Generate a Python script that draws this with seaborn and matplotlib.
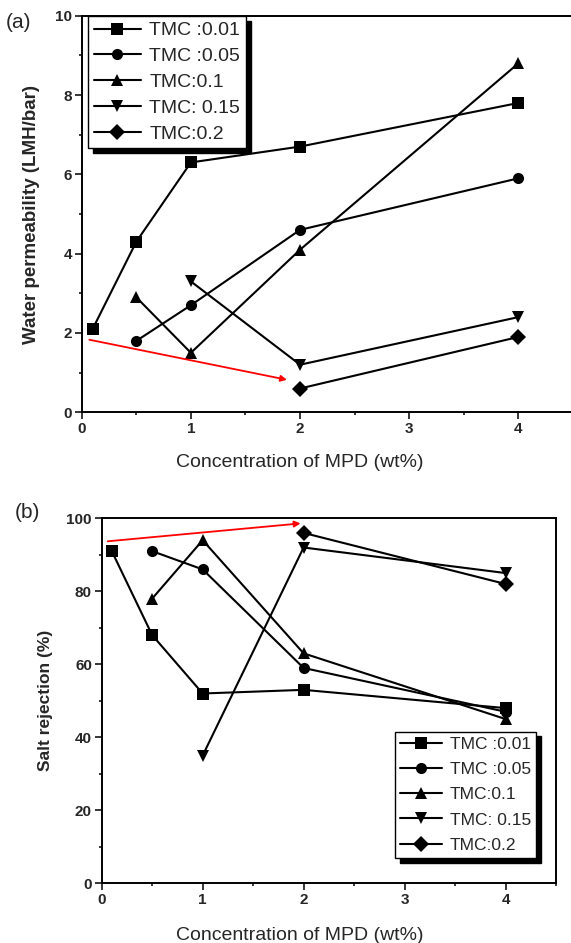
import pandas as pd
import matplotlib
matplotlib.use("Agg")
import matplotlib.pyplot as plt
from matplotlib.ticker import MultipleLocator
import seaborn as sns

# TMC series labels and MPD concentrations (wt%)
labels = ["TMC :0.01", "TMC :0.05", "TMC:0.1", "TMC: 0.15", "TMC:0.2"]
mpd_001 = [0.1, 0.5, 1, 2, 4]
mpd_005 = [0.5, 1, 2, 4]
mpd_01 = [0.5, 1, 2, 4]
mpd_015 = [1, 2, 4]
mpd_02 = [2, 4]

# (a) water permeability (LMH/bar)
perm_001 = [2.1, 4.3, 6.3, 6.7, 7.8]
perm_005 = [1.8, 2.7, 4.6, 5.9]
perm_01 = [2.9, 1.5, 4.1, 8.8]
perm_015 = [3.3, 1.2, 2.4]
perm_02 = [0.6, 1.9]

# (b) salt rejection (%)
rej_001 = [91, 68, 52, 53, 48]
rej_005 = [91, 86, 59, 47]
rej_01 = [78, 94, 63, 45]
rej_015 = [35, 92, 85]
rej_02 = [96, 82]

# red trend arrows (start x, start y, end x, end y)
arrow_a = [0.07, 1.83, 1.88, 0.82]
arrow_b = [0.06, 93.7, 1.97, 98.6]

xs = [mpd_001, mpd_005, mpd_01, mpd_015, mpd_02]


def long_frame(ys):
    rows = []
    for lab, xv, yv in zip(labels, xs, ys):
        for a, b in zip(xv, yv):
            rows.append({"MPD": a, "val": b, "TMC": lab})
    return pd.DataFrame(rows)


df_a = long_frame([perm_001, perm_005, perm_01, perm_015, perm_02])
df_b = long_frame([rej_001, rej_005, rej_01, rej_015, rej_02])

sns.set_style("ticks")
plt.rcParams["font.family"] = ["Liberation Sans", "DejaVu Sans"]

markers = dict(zip(labels, ["s", "o", "^", "v", "D"]))
palette = dict(zip(labels, ["black"] * 5))

fig = plt.figure(figsize=(5.71, 9.43), dpi=100)
W, H = 571, 943


def px_axes(l, t, r, b):
    return fig.add_axes([l / W, 1 - b / H, (r - l) / W, (b - t) / H])


ax_a = px_axes(81.7, 15.7, 573, 412.3)
ax_b = px_axes(101.7, 518.3, 556, 883.3)


def draw(ax, df, ylim, ymajor, yminor, ylabel, ylab_fs, arrow, leg_anchor,
         leg_loc, leg_fs, leg_sp, xlab_x, ylab_x):
    sns.lineplot(data=df, x="MPD", y="val", hue="TMC", style="TMC",
                 hue_order=labels, style_order=labels, markers=markers,
                 dashes=False, palette=palette, errorbar=None, ax=ax,
                 linewidth=1.5, markersize=8, markeredgewidth=0)
    ax.set_xlim(0, 4.5)
    ax.set_ylim(*ylim)
    ax.xaxis.set_major_locator(MultipleLocator(1))
    ax.xaxis.set_minor_locator(MultipleLocator(0.5))
    ax.yaxis.set_major_locator(MultipleLocator(ymajor))
    ax.yaxis.set_minor_locator(MultipleLocator(yminor))
    ax.tick_params(which="major", direction="out", length=5, width=1.3,
                   labelsize=11, pad=2)
    ax.tick_params(which="minor", direction="out", length=2.5, width=1.3)
    for lab in ax.get_xticklabels() + ax.get_yticklabels():
        lab.set_fontweight("bold")
    for s in ax.spines.values():
        s.set_linewidth(1.4)
        s.set_color("black")
    ax.set_xlabel("Concentration of MPD (wt%)", fontsize=14)
    ax.set_ylabel(ylabel, fontsize=ylab_fs, fontweight="bold")
    ax.xaxis.set_label_coords(xlab_x, -0.105 if ylim[1] == 10 else -0.12)
    ax.yaxis.set_label_coords(ylab_x, 0.5)
    ax.annotate("", xy=(arrow[2], arrow[3]), xytext=(arrow[0], arrow[1]),
                arrowprops=dict(arrowstyle="-|>", color="red", lw=1.3,
                                mutation_scale=9, shrinkA=0, shrinkB=0))
    handles, labs = ax.get_legend_handles_labels()
    leg = ax.legend(handles, labs, loc=leg_loc, bbox_to_anchor=leg_anchor,
                    bbox_transform=fig.transFigure, borderaxespad=0,
                    fontsize=leg_fs, frameon=True, fancybox=False,
                    framealpha=1, edgecolor="black", handlelength=2.4,
                    handletextpad=0.45, labelspacing=leg_sp, borderpad=0.3,
                    shadow={"ox": 3.5, "oy": -3.5, "shade": 1.0, "alpha": 1})
    leg.get_frame().set_linewidth(1.0)


draw(ax_a, df_a, (0, 10), 2, 1, "Water permeability (LMH/bar)", 13.5, arrow_a,
     (88 / W, 1 - 16 / H), "upper left", 14, 0.42, 0.444, -0.085)
draw(ax_b, df_b, (0, 100), 20, 10, "Salt rejection (%)", 12.5, arrow_b,
     (536 / W, 1 - 858 / H), "lower right", 12.5, 0.58, 0.436, -0.107)

fig.text(6 / W, 1 - 23 / H, "(a)", fontsize=15, va="center", ha="left")
fig.text(15 / W, 1 - 513 / H, "(b)", fontsize=15, va="center", ha="left")

fig.savefig("out.png", dpi=100)
